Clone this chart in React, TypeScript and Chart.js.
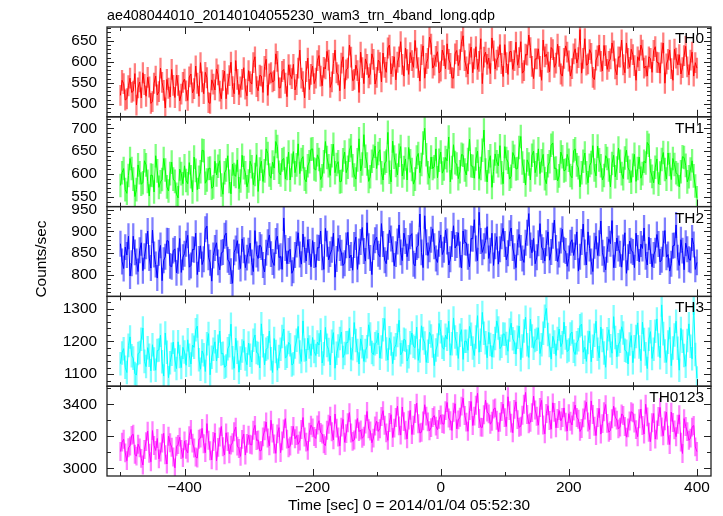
import { useEffect, useRef } from 'react';
import { Chart, registerables } from 'chart.js';

Chart.register(...registerables);

const TITLE = 'ae408044010_20140104055230_wam3_trn_4band_long.qdp';
const X_LABEL = 'Time [sec] 0 = 2014/01/04 05:52:30';
const Y_LABEL = 'Counts/sec';

// time bins: first bin centre and bin width (sec)
const BIN_START = -500;
const BIN_WIDTH = 2.5;

const X_MIN = -521;
const X_MAX = 422;
const X_TICKS = [-400, -200, 0, 200, 400];
const X_MINOR_TICKS = [-500, -300, -100, 100, 300];

const BANDS = ['TH0', 'TH1', 'TH2', 'TH3', 'TH0123'];

const TH0 = [
  520, 556, 548, 509, 512, 543, 561, 527, 530, 572, 497, 538, 552, 514, 574, 546, 518, 563, 540, 501,
  505, 549, 566, 521, 529, 585, 551, 532, 490, 558, 537, 516, 582, 544, 515, 568, 544, 507, 523, 551,
  559, 531, 508, 564, 571, 526, 536, 590, 549, 518, 598, 552, 524, 575, 562, 503, 501, 557, 547, 533,
  583, 569, 530, 512, 556, 578, 512, 547, 567, 599, 541, 524, 603, 558, 522, 540, 558, 586, 535, 519,
  579, 553, 547, 598, 612, 541, 531, 568, 566, 527, 589, 606, 520, 571, 574, 552, 555, 619, 601, 538,
  538, 577, 582, 549, 517, 593, 569, 560, 594, 533, 546, 585, 628, 561, 553, 514, 577, 609, 534, 570,
  590, 548, 561, 603, 615, 566, 543, 587, 583, 625, 604, 539, 552, 596, 628, 574, 569, 531, 597, 612,
  536, 581, 585, 640, 611, 555, 558, 592, 579, 527, 623, 586, 548, 607, 594, 562, 571, 619, 606, 547,
  563, 604, 598, 552, 621, 587, 575, 633, 640, 571, 589, 612, 557, 599, 612, 648, 594, 566, 633, 605,
  570, 622, 603, 587, 651, 609, 586, 554, 617, 638, 561, 596, 608, 659, 642, 585, 592, 613, 624, 574,
  578, 628, 615, 583, 643, 606, 596, 562, 561, 619, 627, 591, 605, 648, 662, 603, 588, 571, 619, 635,
  574, 607, 636, 582, 601, 655, 548, 611, 623, 594, 609, 572, 657, 626, 583, 604, 612, 641, 596, 565,
  641, 598, 570, 624, 625, 582, 603, 647, 592, 610, 648, 573, 579, 618, 616, 664, 634, 589, 560, 607,
  607, 631, 589, 556, 652, 612, 618, 599, 576, 634, 629, 587, 597, 642, 613, 571, 566, 608, 638, 623,
  602, 566, 584, 619, 631, 597, 610, 677, 573, 608, 655, 592, 595, 629, 620, 563, 558, 604, 614, 640,
  601, 578, 639, 615, 582, 601, 607, 645, 626, 583, 569, 612, 611, 652, 593, 574, 645, 608, 587, 630,
  617, 591, 556, 612, 603, 640, 628, 585, 590, 566, 612, 608, 575, 627, 636, 599, 598, 573, 621, 645,
  549, 595, 606, 628, 584, 556, 630, 609, 593, 617, 571, 586, 615, 637, 588, 569, 604, 623, 566, 598,
  585,
];

const TH1 = [
  575, 603, 612, 566, 558, 597, 634, 612, 589, 551, 566, 620, 603, 578, 581, 629, 620, 584, 552, 598,
  597, 561, 640, 607, 571, 583, 588, 634, 609, 572, 563, 601, 626, 589, 584, 556, 548, 611, 601, 579,
  618, 586, 579, 625, 594, 561, 637, 608, 566, 593, 605, 652, 651, 580, 587, 612, 613, 569, 572, 628,
  598, 617, 629, 576, 556, 603, 609, 640, 584, 557, 622, 599, 595, 631, 568, 585, 641, 614, 603, 572,
  585, 628, 616, 577, 599, 642, 562, 611, 628, 584, 607, 655, 645, 598, 591, 626, 613, 671, 660, 604,
  598, 631, 634, 589, 612, 648, 587, 619, 649, 603, 620, 666, 601, 632, 638, 589, 583, 618, 627, 654,
  655, 611, 609, 642, 632, 588, 596, 627, 671, 636, 618, 597, 640, 665, 603, 621, 627, 583, 584, 631,
  648, 603, 615, 652, 662, 618, 598, 589, 631, 677, 607, 622, 686, 639, 622, 584, 594, 628, 639, 661,
  612, 645, 653, 603, 587, 624, 628, 691, 604, 583, 672, 637, 619, 598, 641, 660, 596, 614, 633, 587,
  658, 629, 610, 578, 589, 637, 645, 603, 621, 668, 700, 642, 603, 591, 637, 612, 616, 655, 592, 630,
  648, 602, 611, 636, 629, 681, 583, 614, 664, 625, 622, 590, 605, 643, 641, 609, 598, 632, 676, 618,
  617, 591, 633, 650, 590, 612, 652, 696, 609, 583, 627, 640, 571, 606, 644, 627, 618, 662, 603, 579,
  660, 634, 626, 589, 595, 647, 639, 611, 612, 658, 682, 624, 606, 576, 631, 622, 587, 641, 650, 603,
  620, 655, 601, 629, 643, 590, 579, 618, 627, 663, 668, 612, 613, 585, 596, 648, 638, 607, 609, 643,
  630, 597, 592, 651, 655, 620, 614, 572, 603, 628, 646, 603, 581, 619, 625, 662, 609, 596, 661, 631,
  618, 587, 597, 640, 634, 609, 572, 623, 641, 594, 613, 657, 628, 601, 590, 635, 652, 614, 606, 582,
  619, 643, 584, 612, 637, 591, 601, 628, 624, 669, 663, 607, 595, 581, 615, 633, 578, 602, 632, 647,
  610, 589, 646, 621, 588, 634, 621, 603, 599, 572, 605, 638, 636, 619, 583, 594, 611, 629, 596, 574,
  548,
];

const TH2 = [
  872, 831, 815, 864, 846, 889, 798, 827, 889, 852, 831, 808, 857, 874, 810, 843, 866, 901, 839, 816,
  903, 847, 824, 793, 851, 868, 787, 834, 842, 879, 878, 821, 819, 856, 860, 805, 833, 884, 806, 841,
  849, 872, 891, 818, 822, 859, 858, 896, 801, 837, 867, 824, 836, 905, 912, 841, 828, 786, 845, 862,
  874, 829, 812, 851, 853, 890, 896, 835, 830, 809, 781, 852, 861, 879, 842, 815, 883, 857, 817, 840,
  856, 873, 829, 808, 902, 847, 838, 869, 864, 823, 807, 851, 875, 892, 848, 830, 822, 878, 889, 840,
  843, 813, 931, 862, 826, 855, 859, 804, 811, 846, 870, 897, 847, 825, 894, 858, 832, 881, 853, 819,
  879, 846, 818, 863, 862, 901, 841, 813, 907, 872, 835, 848, 858, 896, 795, 837, 884, 862, 851, 822,
  827, 868, 898, 839, 846, 811, 869, 887, 813, 854, 876, 909, 855, 832, 920, 866, 839, 801, 864, 880,
  887, 849, 842, 918, 871, 834, 826, 865, 903, 884, 859, 821, 848, 877, 915, 852, 833, 896, 878, 842,
  862, 889, 895, 826, 821, 864, 868, 940, 852, 817, 936, 875, 845, 859, 881, 906, 866, 838, 829, 872,
  892, 847, 858, 903, 877, 823, 836, 871, 913, 862, 869, 897, 847, 816, 901, 875, 874, 842, 819, 884,
  883, 927, 861, 833, 944, 878, 852, 866, 879, 911, 838, 856, 896, 822, 866, 888, 825, 859, 889, 907,
  871, 835, 850, 896, 908, 862, 843, 817, 875, 893, 862, 838, 829, 874, 897, 941, 868, 851, 884, 826,
  841, 873, 918, 864, 857, 832, 873, 899, 834, 853, 890, 926, 862, 831, 847, 879, 905, 858, 855, 820,
  838, 874, 881, 845, 864, 899, 809, 842, 876, 917, 852, 823, 899, 861, 831, 808, 867, 889, 845, 873,
  924, 851, 836, 812, 858, 883, 872, 925, 817, 846, 885, 861, 849, 818, 863, 897, 804, 841, 878, 856,
  853, 817, 896, 862, 830, 871, 861, 908, 842, 823, 887, 855, 819, 846, 856, 893, 871, 830, 835, 872,
  902, 841, 847, 809, 826, 867, 868, 915, 840, 822, 881, 856, 812, 873, 859, 836, 834, 885, 870, 813,
  829,
];

const TH3 = [
  1132, 1165, 1178, 1121, 1105, 1188, 1214, 1156, 1149, 1102, 1097, 1163, 1166, 1207, 1241, 1139, 1123, 1181, 1158, 1110,
  1190, 1146, 1112, 1172, 1174, 1219, 1138, 1094, 1226, 1167, 1089, 1135, 1161, 1198, 1143, 1117, 1199, 1154, 1120, 1182,
  1168, 1127, 1205, 1158, 1131, 1189, 1182, 1236, 1247, 1144, 1115, 1171, 1159, 1108, 1193, 1224, 1098, 1152, 1176, 1199,
  1140, 1185, 1232, 1162, 1164, 1121, 1125, 1178, 1187, 1253, 1150, 1118, 1210, 1167, 1106, 1149, 1171, 1202, 1146, 1129,
  1195, 1158, 1137, 1204, 1220, 1166, 1163, 1119, 1254, 1187, 1128, 1176, 1181, 1232, 1147, 1105, 1209, 1169, 1112, 1154,
  1176, 1215, 1238, 1149, 1155, 1197, 1190, 1128, 1132, 1183, 1204, 1246, 1168, 1139, 1263, 1174, 1141, 1210, 1183, 1157,
  1212, 1169, 1157, 1198, 1189, 1235, 1134, 1162, 1243, 1188, 1175, 1128, 1201, 1227, 1118, 1164, 1186, 1209, 1229, 1151,
  1163, 1196, 1197, 1240, 1145, 1178, 1258, 1203, 1172, 1131, 1208, 1184, 1139, 1172, 1184, 1251, 1223, 1166, 1160, 1193,
  1198, 1226, 1149, 1183, 1236, 1270, 1177, 1143, 1211, 1192, 1132, 1179, 1190, 1218, 1265, 1159, 1168, 1207, 1204, 1140,
  1153, 1196, 1226, 1185, 1181, 1244, 1142, 1171, 1248, 1209, 1195, 1136, 1170, 1228, 1217, 1186, 1126, 1174, 1189, 1255,
  1230, 1182, 1176, 1219, 1207, 1262, 1158, 1193, 1272, 1214, 1193, 1148, 1219, 1236, 1145, 1201, 1201, 1173, 1246, 1222,
  1180, 1157, 1214, 1279, 1167, 1204, 1289, 1225, 1196, 1150, 1228, 1191, 1152, 1187, 1209, 1263, 1241, 1178, 1185, 1223,
  1222, 1194, 1170, 1235, 1256, 1208, 1198, 1161, 1213, 1247, 1144, 1186, 1232, 1274, 1190, 1151, 1268, 1217, 1179, 1203,
  1207, 1242, 1163, 1190, 1225, 1277, 1301, 1221, 1188, 1146, 1216, 1198, 1157, 1209, 1238, 1184, 1196, 1259, 1211, 1169,
  1174, 1223, 1229, 1170, 1160, 1196, 1205, 1248, 1253, 1167, 1182, 1139, 1197, 1231, 1138, 1185, 1219, 1262, 1176, 1150,
  1244, 1203, 1165, 1121, 1208, 1236, 1187, 1164, 1276, 1212, 1153, 1190, 1201, 1245, 1226, 1173, 1170, 1131, 1192, 1218,
  1135, 1184, 1215, 1257, 1183, 1141, 1259, 1206, 1162, 1117, 1207, 1230, 1148, 1176, 1231, 1269, 1189, 1150, 1312, 1224,
  1171, 1136, 1198, 1243, 1126, 1180, 1220, 1262, 1179, 1112, 1240, 1201, 1157, 1124, 1203, 1254, 1185, 1147, 1318, 1160,
  1088,
];

const TH0123 = [
  3105, 3164, 3182, 3097, 3048, 3129, 3140, 3206, 3213, 3088, 3076, 3151, 3128, 3062, 3021, 3118, 3167, 3233, 3094, 3041,
  3236, 3143, 3112, 3187, 3059, 3102, 3158, 3219, 3085, 3027, 3201, 3160, 3132, 3071, 3003, 3138, 3149, 3195, 3118, 3067,
  3172, 3119, 3096, 3205, 3243, 3158, 3127, 3071, 3065, 3182, 3189, 3250, 3154, 3098, 3280, 3176, 3110, 3053, 3168, 3221,
  3047, 3131, 3196, 3262, 3135, 3084, 3222, 3167, 3091, 3145, 3160, 3229, 3258, 3139, 3124, 3075, 3181, 3214, 3083, 3156,
  3207, 3151, 3146, 3238, 3269, 3174, 3178, 3109, 3112, 3197, 3235, 3290, 3190, 3141, 3301, 3220, 3152, 3094, 3216, 3255,
  3098, 3172, 3247, 3311, 3183, 3128, 3139, 3206, 3262, 3185, 3205, 3151, 3171, 3243, 3318, 3196, 3164, 3112, 3226, 3270,
  3253, 3199, 3187, 3271, 3298, 3224, 3215, 3154, 3142, 3238, 3276, 3327, 3229, 3178, 3340, 3252, 3196, 3141, 3258, 3306,
  3163, 3217, 3285, 3349, 3221, 3169, 3177, 3246, 3312, 3230, 3240, 3188, 3201, 3277, 3356, 3248, 3234, 3160, 3189, 3265,
  3295, 3231, 3248, 3324, 3361, 3270, 3222, 3175, 3287, 3336, 3193, 3252, 3318, 3389, 3266, 3208, 3384, 3292, 3239, 3184,
  3302, 3363, 3212, 3270, 3343, 3408, 3279, 3221, 3226, 3297, 3398, 3327, 3291, 3235, 3255, 3318, 3330, 3264, 3242, 3306,
  3334, 3280, 3276, 3361, 3412, 3315, 3298, 3237, 3351, 3404, 3247, 3303, 3320, 3389, 3439, 3331, 3289, 3232, 3362, 3418,
  3268, 3327, 3395, 3470, 3312, 3258, 3256, 3335, 3427, 3352, 3341, 3276, 3295, 3371, 3378, 3301, 3230, 3288, 3356, 3402,
  3317, 3262, 3448, 3361, 3283, 3223, 3369, 3416, 3305, 3257, 3263, 3332, 3401, 3475, 3337, 3279, 3288, 3349, 3452, 3365,
  3326, 3270, 3381, 3425, 3271, 3216, 3343, 3392, 3299, 3245, 3410, 3350, 3254, 3312, 3362, 3297, 3318, 3378, 3289, 3233,
  3342, 3295, 3271, 3358, 3396, 3318, 3307, 3231, 3249, 3316, 3365, 3414, 3290, 3243, 3422, 3337, 3263, 3205, 3318, 3375,
  3214, 3280, 3354, 3399, 3281, 3226, 3236, 3310, 3389, 3321, 3302, 3247, 3258, 3340, 3331, 3262, 3195, 3253, 3296, 3354,
  3347, 3283, 3242, 3198, 3310, 3371, 3268, 3215, 3401, 3322, 3226, 3167, 3285, 3343, 3183, 3240, 3324, 3381, 3259, 3204,
  3298, 3352, 3207, 3149, 3352, 3287, 3241, 3198, 3276, 3335, 3164, 3093, 3311, 3262, 3230, 3176, 3189, 3258, 3268, 3134,
  3105,
];

// 1-sigma error of each band (counts/sec)
const ERRORS = [24, 25, 29, 35, 57];

const Y_RANGES = [
  [469, 683],
  [529, 725],
  [751, 957],
  [1063, 1338],
  [2952, 3514],
];
const Y_TICKS = [
  [500, 550, 600, 650],
  [550, 600, 650, 700],
  [800, 850, 900, 950],
  [1100, 1200, 1300],
  [3000, 3200, 3400],
];
const Y_MINOR_STEP = [10, 10, 10, 20, 100];

const COLORS = ['#ff0000', '#00ff00', '#0000ff', '#00ffff', '#ff00ff'];
const ERR_COLORS = [
  'rgba(255,0,0,0.5)',
  'rgba(0,255,0,0.5)',
  'rgba(0,0,255,0.5)',
  'rgba(0,255,255,0.5)',
  'rgba(255,0,255,0.5)',
];

const SERIES = [TH0, TH1, TH2, TH3, TH0123];

const FONT = "'Liberation Sans', Arial, Helvetica, sans-serif";
const TICK_SIZE = 15.4;

const fmtX = (v: number) => (v < 0 ? '\u2212' + Math.abs(v) : String(v));

const panelClip = {
  id: 'panelClip',
  beforeDatasetDraw(chart: any, args: any) {
    const ys = chart.scales[args.meta.yAxisID];
    const ca = chart.chartArea;
    const ctx = chart.ctx;
    ctx.save();
    ctx.beginPath();
    ctx.rect(ca.left, ys.top, ca.right - ca.left, ys.bottom - ys.top);
    ctx.clip();
  },
  afterDatasetDraw(chart: any) {
    chart.ctx.restore();
  },
};

const decorations = {
  id: 'decorations',
  afterDraw(chart: any) {
    const ctx = chart.ctx;
    const ca = chart.chartArea;
    const xs = chart.scales.x;
    ctx.save();
    BANDS.forEach((band, k) => {
      const ys = chart.scales['y' + k];
      const top = ys.top;
      const bottom = ys.bottom;
      ctx.strokeStyle = '#222';
      ctx.lineWidth = 1.3;
      ctx.strokeRect(ca.left, top, ca.right - ca.left, bottom - top);

      ctx.lineWidth = 1;
      ctx.beginPath();
      const [mn, mx] = Y_RANGES[k];
      const step = Y_MINOR_STEP[k];
      for (let v = Math.ceil(mn / step) * step; v <= mx; v += step) {
        const p = Math.round(ys.getPixelForValue(v)) + 0.5;
        const len = Y_TICKS[k].includes(v) ? 7 : 4;
        ctx.moveTo(ca.left, p);
        ctx.lineTo(ca.left + len, p);
        ctx.moveTo(ca.right, p);
        ctx.lineTo(ca.right - len, p);
      }
      const drawX = (vals: number[], len: number) => {
        vals.forEach((v) => {
          const p = Math.round(xs.getPixelForValue(v)) + 0.5;
          ctx.moveTo(p, top);
          ctx.lineTo(p, top + len);
          ctx.moveTo(p, bottom);
          ctx.lineTo(p, bottom - len);
        });
      };
      drawX(X_TICKS, 7);
      drawX(X_MINOR_TICKS, 4);
      ctx.stroke();

      ctx.fillStyle = '#000';
      ctx.font = `${TICK_SIZE}px ${FONT}`;
      ctx.textAlign = 'right';
      ctx.textBaseline = 'alphabetic';
      ctx.fillText(band, 704, top + 16);
    });

    ctx.fillStyle = '#000';
    ctx.font = `14.3px ${FONT}`;
    ctx.textAlign = 'left';
    ctx.textBaseline = 'alphabetic';
    ctx.fillText(TITLE, ca.left, 20);

    ctx.font = `${TICK_SIZE}px ${FONT}`;
    ctx.translate(41.5, 259);
    ctx.rotate(-Math.PI / 2);
    ctx.textAlign = 'center';
    ctx.textBaseline = 'middle';
    ctx.fillText(Y_LABEL, 0, 0);
    ctx.restore();
  },
};

export default function App() {
  const ref = useRef<HTMLCanvasElement | null>(null);

  useEffect(() => {
    if (!ref.current) return;
    const datasets: any[] = [];
    SERIES.forEach((vals, k) => {
      const yAxisID = 'y' + k;
      datasets.push({
        type: 'line',
        label: BANDS[k],
        xAxisID: 'x',
        yAxisID,
        data: vals.map((v, i) => ({ x: BIN_START + i * BIN_WIDTH, y: v })),
        borderColor: COLORS[k],
        borderWidth: 1,
        pointRadius: 0,
        tension: 0,
        fill: false,
        order: 1,
      });
      datasets.push({
        type: 'bar',
        label: BANDS[k] + ' error',
        xAxisID: 'x',
        yAxisID,
        data: vals.map((v, i) => ({ x: BIN_START + i * BIN_WIDTH, y: [v - ERRORS[k], v + ERRORS[k]] })),
        backgroundColor: ERR_COLORS[k],
        borderWidth: 0,
        barThickness: 1.6,
        grouped: false,
        order: 2,
      });
    });

    const tickFont = { family: FONT, size: TICK_SIZE };
    const scales: any = {
      x: {
        type: 'linear',
        position: 'bottom',
        offset: false,
        min: X_MIN,
        max: X_MAX,
        afterBuildTicks: (s: any) => {
          s.ticks = X_TICKS.map((v) => ({ value: v }));
        },
        afterFit: (s: any) => {
          s.height = 40;
        },
        grid: { display: false, drawTicks: false, offset: false },
        border: { display: false },
        ticks: {
          autoSkip: false,
          maxRotation: 0,
          padding: 2.7,
          color: '#000',
          font: tickFont,
          callback: (v: any) => fmtX(Number(v)),
        },
        title: {
          display: true,
          text: X_LABEL,
          color: '#000',
          font: tickFont,
          padding: { top: 0, bottom: 0.7 },
        },
      },
    };
    BANDS.forEach((_, k) => {
      scales['y' + k] = {
        type: 'linear',
        position: 'left',
        stack: 'panels',
        stackWeight: 1,
        weight: BANDS.length - k,
        offset: false,
        min: Y_RANGES[k][0],
        max: Y_RANGES[k][1],
        afterBuildTicks: (s: any) => {
          s.ticks = Y_TICKS[k].map((v) => ({ value: v }));
        },
        afterFit: (s: any) => {
          s.width = 107;
        },
        grid: { display: false, drawTicks: false },
        border: { display: false },
        ticks: {
          autoSkip: false,
          padding: 10,
          color: '#000',
          font: tickFont,
          callback: (v: any) => String(v),
        },
      };
    });

    const chart = new Chart(ref.current, {
      type: 'line',
      data: { datasets },
      options: {
        animation: false,
        responsive: false,
        devicePixelRatio: 1,
        layout: { padding: { top: 27, right: 12, bottom: 0, left: 0 } },
        plugins: { legend: { display: false }, tooltip: { enabled: false } },
        scales,
      } as any,
      plugins: [panelClip, decorations],
    } as any);
    return () => chart.destroy();
  }, []);

  return (
    <div style={{ position: 'absolute', left: 0, top: 0, width: 723, height: 516, background: '#fff' }}>
      <canvas ref={ref} width={723} height={516} style={{ display: 'block' }} />
    </div>
  );
}
